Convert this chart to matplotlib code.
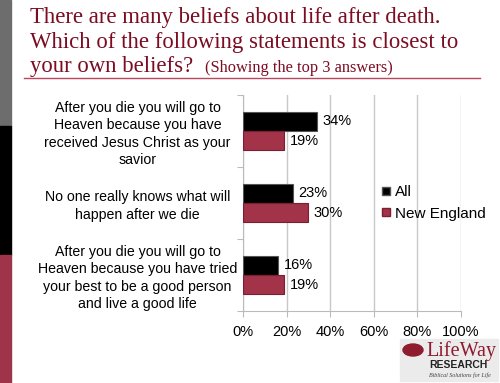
import numpy as np
import matplotlib.pyplot as plt
from matplotlib.patches import Rectangle, Ellipse
from matplotlib.lines import Line2D

categories = [
    "After you die you will go to\nHeaven because you have\nreceived Jesus Christ as your\nsavior",
    "No one really knows what will\nhappen after we die",
    "After you die you will go to\nHeaven because you have tried\nyour best to be a good person\nand live a good life",
]
all_vals = [34, 23, 16]
ne_vals = [19, 30, 19]
series_names = ["All", "New England"]
xticks = [0, 20, 40, 60, 80, 100]

W, H = 500, 383
fig = plt.figure(figsize=(W / 100, H / 100), dpi=100)
fig.patch.set_facecolor("white")

def px(x, y):
    # pixel coords (top-left origin) -> figure fraction
    return x / W, 1 - y / H

# left colour strip
for y0, y1, c in [(0, 126, "#6d6d6d"), (126, 255, "#000000"), (255, 383, "#9e3349")]:
    fig.patches.append(Rectangle((0, 1 - y1 / H), 11 / W, (y1 - y0) / H,
                                 transform=fig.transFigure, color=c, zorder=0))

# title
title_color = "#7c0c22"
serif = "Liberation Serif"
fig.text(*px(30, 23), "There are many beliefs about life after death.", fontsize=16.4,
         family=serif, color=title_color, va="baseline")
fig.text(*px(30, 48), "Which of the following statements is closest to", fontsize=16.4,
         family=serif, color=title_color, va="baseline")
fig.text(*px(30, 72), "your own beliefs?", fontsize=16.4,
         family=serif, color=title_color, va="baseline")
fig.text(*px(205, 72), "(Showing the top 3 answers)", fontsize=11.8,
         family=serif, color=title_color, va="baseline")
fig.lines.append(Line2D([24 / W, 480 / W], [1 - 78 / H] * 2, transform=fig.transFigure,
                        color="#b9475e", lw=1))

# chart
ax = fig.add_axes([243 / W, 1 - 311 / H, 218 / W, 216 / H])
y = np.arange(len(categories))
h = 0.27
b1 = ax.barh(y - h / 2, all_vals, height=h, color="#000000", edgecolor="#555555", lw=0.8, zorder=3)
b2 = ax.barh(y + h / 2, ne_vals, height=h, color="#a23348", edgecolor="#7d1d30", lw=0.8, zorder=3)
for bars, vals in [(b1, all_vals), (b2, ne_vals)]:
    for bar, v in zip(bars, vals):
        ax.annotate(f"{v}%", (v, bar.get_y() + bar.get_height() / 2), xytext=(4, 0),
                    textcoords="offset points", va="center", ha="left", fontsize=10.5,
                    family="Liberation Sans")

ax.set_xlim(0, 100)
ax.set_ylim(2.5, -0.5)
ax.set_xticks(xticks)
ax.set_xticklabels([f"{t}%" for t in xticks], fontsize=10.5, family="Liberation Sans")
ax.set_yticks([-0.5, 0.5, 1.5, 2.5])
ax.set_yticklabels([])
ax.set_yticks(y, minor=True)
ax.set_yticklabels(categories, minor=True, fontsize=10.2, family="Liberation Sans",
                   ha="center", linespacing=1.3)
ax.tick_params(axis="y", which="minor", length=0, pad=76)
ax.tick_params(axis="y", which="major", length=4, color="#bbbbbb")
ax.tick_params(axis="x", length=4, color="#bbbbbb", pad=6)
ax.grid(axis="x", color="#c8c8c8", lw=1, zorder=0)
for s in ["top", "right"]:
    ax.spines[s].set_visible(False)
for s in ["left", "bottom"]:
    ax.spines[s].set_color("#bbbbbb")

handles = [Line2D([], [], marker="s", ls="", markersize=6, markerfacecolor="#000000",
                  markeredgecolor="#555555"),
           Line2D([], [], marker="s", ls="", markersize=6, markerfacecolor="#a23348",
                  markeredgecolor="#7d1d30")]
ax.legend(handles, series_names, loc="center left", bbox_to_anchor=(0.57, 0.5),
          frameon=False, prop={"family": "Liberation Sans", "size": 11},
          handlelength=0.6, handletextpad=0.3, labelspacing=0.5)

# logo
fig.patches.append(Rectangle(px(400, 381), 98 / W, 42 / H, transform=fig.transFigure,
                             color="#ebebeb", zorder=0))
fig.patches.append(Ellipse(px(413, 350), 20 / W, 12 / H, transform=fig.transFigure,
                           color="#8e1b2e", zorder=1))
fig.text(*px(426, 356), "LifeWay", fontsize=14.5, family=serif, color="#8e1b2e", va="baseline")
fig.text(*px(429, 368), "RESEARCH", fontsize=7.5, family="Liberation Sans", weight="bold",
         color="#222222", va="baseline")
fig.text(*px(429, 377), "Biblical Solutions for Life", fontsize=4.3, family=serif,
         style="italic", color="#444444", va="baseline")

fig.savefig("out.png", dpi=100)
